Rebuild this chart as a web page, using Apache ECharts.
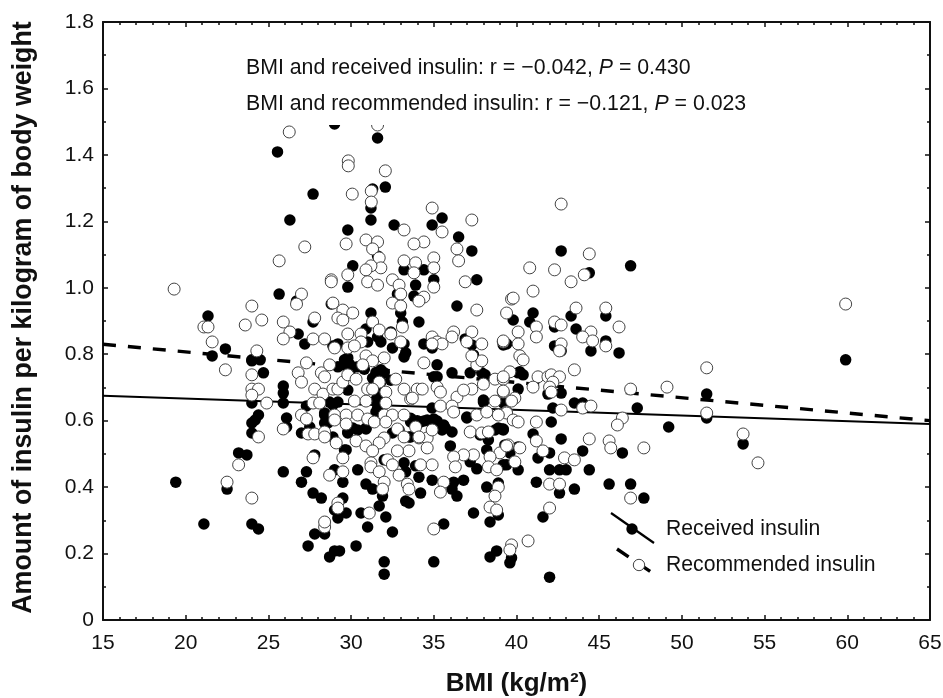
<!DOCTYPE html>
<html>
<head>
<meta charset="utf-8">
<style>html,body{margin:0;padding:0;background:#fff}#c{width:943px;height:698px}</style>
<script src="https://cdn.jsdelivr.net/npm/echarts@6/dist/echarts.min.js"></script>
</head>
<body>
<div id="c"></div>
<script>
var xTitle = 'BMI (kg/m\u00B2)';
var yTitle = 'Amount of insulin per kilogram of body weight';
var statLines = [
  ['BMI and received insulin: r = \u22120.042, ', ' = 0.430'],
  ['BMI and recommended insulin: r = \u22120.121, ', ' = 0.023']
];
var legendNames = ['Received insulin', 'Recommended insulin'];
var receivedFit = [[15,0.675],[65,0.59]];
var recommendedFit = [[15,0.83],[65,0.60]];

var received = [
[29,1.493],[31.6,1.451],[25.55,1.409],[27.7,1.282],[32.07,1.303],[31.3,1.297],[31.2,1.24],[31.2,1.204],[26.3,1.204],[29.8,1.174],
[32.6,1.189],[34.9,1.189],[35.5,1.21],[36.5,1.153],[37.3,1.111],[31.6,1.096],[30.1,1.066],[33.2,1.054],[34.4,1.054],[35,1.024],
[37.6,1.024],[33.9,1.008],[29.8,1.002],[25.65,0.981],[33.8,0.975],[32.8,0.981],[26.7,0.96],[28.8,0.951],[36.4,0.945],[21.35,0.915],
[33,0.924],[31.2,0.924],[27.7,0.897],[34.1,0.897],[33.1,0.897],[26.8,0.861],[27.2,0.831],[30.9,0.876],[32.4,0.867],[29.8,0.861],
[31,0.837],[31.6,0.852],[31.8,0.837],[29.2,0.831],[28.9,0.825],[33.2,0.831],[34.4,0.831],[34.9,0.819],[36.9,0.846],[37.3,0.828],
[22.4,0.816],[21.6,0.795],[32.5,0.819],[33.3,0.804],[39.2,0.828],[37.4,0.798],[29.8,0.789],[24,0.783],[24.5,0.783],
[24,0.78],[24.7,0.744],[25.9,0.704],[25.9,0.683],[24,0.653],[25.9,0.653],[24.4,0.617],[24.2,0.602],[24,0.593],[24,0.563],
[26.1,0.608],[26.1,0.581],[27.3,0.644],[27,0.563],[27.5,0.581],[28.4,0.617],[28.4,0.593],[28.9,0.647],[29.8,0.563],[30.9,0.575],
[30.1,0.578],[31.6,0.662],[29.6,0.768],[31.3,0.728],[29.8,0.692],[32,0.744],[35.2,0.768],[36.1,0.744],[34.9,0.638],[35.2,0.732],
[37.9,0.744],[38,0.656],[39.2,0.653],[37,0.608],[32.5,0.563],[33.6,0.551],[34.4,0.599],[35.2,0.599],[35.5,0.572],[36.1,0.566],
[35.6,0.587],[34.8,0.596],[33.8,0.599],[36,0.524],[38.7,0.572],[39.1,0.575],[38.3,0.542],[38.2,0.512],[39.2,0.467],[29.7,0.512],
[27.8,0.497],[23.2,0.503],[23.7,0.497],[25.9,0.446],[27.3,0.446],[27,0.415],[29,0.452],[29.5,0.415],[30.4,0.452],[30.9,0.409],
[31.3,0.394],[32,0.482],[33.2,0.473],[33.3,0.446],[33.9,0.464],[34.1,0.43],[34.9,0.421],[37.2,0.476],[37.6,0.455],[36.8,0.421],
[36.2,0.415],[36.1,0.394],[36.4,0.373],[38.2,0.4],[31.9,0.373],[31.7,0.343],[33.3,0.358],[33.5,0.352],[34.2,0.382],[19.4,0.415],
[22.5,0.394],[21.1,0.289],[24,0.289],[24.4,0.274],[27.7,0.382],[28.2,0.367],[29.5,0.367],[29,0.331],[29.2,0.307],[29.7,0.322],
[30.6,0.322],[28.4,0.295],[28.4,0.259],[27.8,0.259],[27.4,0.223],[28.7,0.19],[29,0.208],[29.3,0.208],[30.3,0.223],[31,0.28],
[32.1,0.31],[32.5,0.265],[32,0.175],[32,0.138],[35,0.175],[35.6,0.289],[37.4,0.322],[38.4,0.295],[38.9,0.316],[38.4,0.19],[38.8,0.208],
[42.7,1.111],[46.9,1.066],[44.4,1.045],[41,0.924],[40.8,0.897],[39.8,0.903],[43.3,0.915],[45.4,0.915],[42.3,0.882],[43.6,0.876],
[39.4,0.831],[42.3,0.825],[42.7,0.81],[44.5,0.81],[45.4,0.84],[46.2,0.804],[40.2,0.747],[40.4,0.738],[40.1,0.695],[41.9,0.68],
[42.7,0.683],[51.5,0.68],[59.9,0.783],[43.5,0.653],[44,0.653],[42.2,0.638],[47.3,0.638],[51.5,0.608],[42.1,0.596],[49.2,0.581],
[53.7,0.53],[42.7,0.545],[41,0.56],[39.2,0.575],[44,0.509],[42,0.503],[41.3,0.488],[46.4,0.503],[39.6,0.503],[39.3,0.527],
[39.4,0.467],[40.1,0.452],[42,0.452],[42.6,0.452],[43,0.452],[44.4,0.452],[41.2,0.415],[42.6,0.382],[43.5,0.394],[45.6,0.409],
[46.9,0.409],[47.7,0.367],[41.6,0.31],[39.7,0.187],[39.6,0.172],[42,0.129],
[28.7,0.768],[29.2,0.762],[29.6,0.783],[29.8,0.759],[30.4,0.762],[28.7,0.656],[29.2,0.656],[28.4,0.623],[28.6,0.593],[31.6,0.671],
[31.6,0.638],[31.6,0.692],[29.8,0.566],[30.4,0.572],[30.9,0.578],[28.9,0.551],[29.6,0.512],
[33.2,0.792],[31.8,0.753],[35,0.732],[37.2,0.744],[38.1,0.738],[40.1,0.744],[32.4,0.722],[31.8,0.716],[31.5,0.662],[31.5,0.626],
[37,0.611],[38,0.662],[33.2,0.617],[33.6,0.596],[34.2,0.596],[35.7,0.578],[32.9,0.572],[33.5,0.551],[38.9,0.578],[39.2,0.572],
[37.8,0.557],[39.5,0.521],[40.1,0.521],[38.9,0.412],
[33.6,0.607],[34,0.6],[34.6,0.602],[35,0.605],[29.9,0.77],[30,0.755],[30.8,0.755],[31.5,0.745]
];

var recommended = [
[19.3,0.996],[26.26,1.469],[29.83,1.382],[29.83,1.367],[32.07,1.352],[30.07,1.282],[31.22,1.291],[31.22,1.258],[34.9,1.24],[37.3,1.204],
[33.2,1.174],[35.5,1.168],[34.4,1.138],[33.8,1.132],[30.9,1.144],[31.6,1.138],[29.7,1.132],[31.3,1.117],[27.2,1.123],[36.4,1.117],
[36.5,1.081],[25.65,1.081],[31.7,1.09],[35,1.09],[33.2,1.081],[33.9,1.075],[35,1.06],[31.8,1.06],[31.2,1.066],[30.9,1.054],
[33.8,1.045],[29.8,1.039],[28.8,1.024],[28.8,1.018],[32.5,1.024],[32.9,1.008],[31,1.018],[31.6,1.008],[35,1.002],[36.9,1.018],
[27,0.981],[26.7,0.951],[33,0.981],[34.4,0.972],[34.1,0.96],[32.5,0.954],[33,0.945],[28.9,0.954],[24,0.945],[29.5,0.933],
[30.1,0.924],[37.6,0.933],[29.2,0.909],[29.5,0.903],[24.6,0.903],[23.6,0.888],[21.1,0.882],[21.35,0.882],[27.8,0.909],[25.9,0.897],
[31.3,0.897],[33.1,0.882],[31.7,0.873],[26.3,0.867],[32.4,0.861],[29.8,0.861],[30.6,0.861],[33,0.837],[30.6,0.837],[36.2,0.867],
[36.1,0.852],[37.3,0.867],[37,0.837],[37.9,0.831],[34.9,0.852],[35.2,0.837],[35.5,0.831],[34.9,0.831],[39.2,0.837],[39.4,0.924],
[39.7,0.966],[27.7,0.846],[28.4,0.846],[25.9,0.846],[21.6,0.837],[24.3,0.81],[29,0.819],[29.8,0.819],[30.2,0.825],
[22.4,0.753],[24,0.738],[24,0.695],[24.4,0.695],[24,0.677],[24.9,0.653],[26.8,0.744],[27,0.716],[27.3,0.774],[28.2,0.744],
[28.4,0.732],[28.7,0.768],[27.8,0.695],[28.3,0.68],[27.7,0.653],[28.1,0.653],[28.9,0.695],[29.2,0.695],[29.5,0.716],[29.8,0.738],
[30.3,0.725],[30.9,0.795],[31.3,0.78],[32,0.789],[30.7,0.768],[32.7,0.725],[31.7,0.716],[31,0.695],[31.3,0.695],[32.1,0.686],
[33.2,0.695],[34,0.695],[34.3,0.695],[34.4,0.774],[35.2,0.701],[35.4,0.686],[36.4,0.671],[37.3,0.695],[38,0.71],[38.7,0.725],
[39.2,0.686],[37.6,0.768],[37.9,0.78],[37.3,0.795],[33.6,0.665],[30.2,0.659],[30.9,0.659],[32.1,0.653],[35.4,0.644],[36.1,0.644],
[38.7,0.659],[36.2,0.626],[27,0.617],[27.3,0.605],[29,0.617],[29.7,0.617],[30.4,0.617],[32,0.617],[32.5,0.617],[33.2,0.617],
[37.6,0.617],[38.2,0.626],[39.4,0.626],[29,0.602],[29.7,0.59],[31,0.605],[31.4,0.596],[32.1,0.596],[25.9,0.575],[27.4,0.56],
[27.8,0.56],[28.4,0.566],[28.4,0.551],[24.4,0.551],[29.1,0.533],[30.3,0.539],[30.9,0.524],[32,0.548],[31.7,0.533],[32.8,0.575],
[33.2,0.551],[33.9,0.581],[34.1,0.548],[34.6,0.548],[34.9,0.572],[34.6,0.518],[37.2,0.566],[37.9,0.563],[38.3,0.566],[39.5,0.527],
[39,0.503],[38.4,0.491],[37.4,0.497],[36.8,0.497],[36.2,0.491],[36.3,0.461],[38.3,0.461],[38.8,0.452],[33.5,0.509],[32.8,0.509],
[31.3,0.509],[27.7,0.488],[29.5,0.488],[31.2,0.473],[31.2,0.461],[32.2,0.482],[32.5,0.467],[31.7,0.446],[32.9,0.436],[34.2,0.467],
[34.9,0.467],[29.5,0.446],[28.7,0.436],[23.2,0.467],[32,0.415],[31.9,0.394],[33.4,0.409],[33.5,0.394],[35.6,0.415],[35.4,0.385],
[38.9,0.4],[38.7,0.373],[22.5,0.415],[24,0.367],[29.2,0.352],[29.2,0.337],[31.1,0.322],[38.4,0.34],[38.8,0.331],[28.4,0.28],
[28.4,0.295],[35,0.274],
[42.7,1.252],[44.4,1.102],[40.8,1.06],[42.3,1.054],[44.1,1.039],[43.3,1.018],[41,0.99],[39.8,0.969],[43.6,0.939],[45.4,0.939],
[42.3,0.897],[42.7,0.888],[46.2,0.882],[41.2,0.882],[40.1,0.867],[41.2,0.852],[44.5,0.867],[44,0.852],[44.6,0.84],[39.2,0.84],
[40.1,0.831],[42.7,0.831],[45.4,0.825],[42.6,0.81],[40.2,0.795],[40.4,0.783],[43.5,0.753],[39.6,0.747],[39.2,0.725],[41.3,0.732],
[41.9,0.732],[42.1,0.738],[42.6,0.732],[42.2,0.716],[42,0.701],[41,0.701],[39.2,0.689],[42.1,0.686],[46.9,0.695],[49.1,0.701],
[51.5,0.759],[59.9,0.951],[39.9,0.668],[39.7,0.659],[39.4,0.623],[42.7,0.632],[44,0.638],[44.5,0.644],[51.5,0.623],[46.4,0.608],
[46.1,0.587],[39.8,0.602],[40.1,0.596],[41.2,0.596],[41.2,0.539],[44.4,0.545],[45.6,0.539],[45.7,0.518],[47.7,0.518],[54.6,0.473],
[53.7,0.56],[40.2,0.518],[39.4,0.524],[41.6,0.509],[42.9,0.488],[43.5,0.482],[39.9,0.476],[42,0.409],[42.6,0.409],[46.9,0.367],
[42,0.337],[40.7,0.238],[39.7,0.226],[39.6,0.211],
[36.8,0.692],[33.7,0.668],[38.9,0.617],[34.1,0.551],[39.2,0.732],[31.6,1.49]
];

var FONT = '"Liberation Sans", Arial, sans-serif';
var INK = '#111';
function axisBase(pos, splits) {
  return {
    position: pos,
    splitLine: {show: false},
    axisLine: {show: true, onZero: false, lineStyle: {color: INK, width: 2}},
    axisTick: {show: true, inside: true, length: 5, lineStyle: {color: INK, width: 1.5}},
    minorTick: {show: true, splitNumber: splits, length: 3, lineStyle: {color: INK, width: 1.5}},
    minorSplitLine: {show: false}
  };
}
function xAxisDef(pos, labels) {
  var a = axisBase(pos, 5);
  a.type = 'value'; a.min = 15; a.max = 65; a.interval = 5;
  a.axisLabel = {show: labels, fontFamily: FONT, fontSize: 21, color: INK, margin: 13};
  if (labels) {
    a.name = xTitle; a.nameLocation = 'middle'; a.nameGap = 51;
    a.nameTextStyle = {fontFamily: FONT, fontSize: 26, fontWeight: 'bold', color: INK};
  }
  return a;
}
function yAxisDef(pos, labels) {
  var a = axisBase(pos, 2);
  a.type = 'value'; a.min = 0; a.max = 1.8; a.interval = 0.2;
  a.axisLabel = {show: labels, fontFamily: FONT, fontSize: 21, color: INK, margin: 9,
    formatter: function (v) { return v === 0 ? '0' : v.toFixed(1); }};
  if (labels) {
    a.name = yTitle; a.nameLocation = 'middle'; a.nameGap = 66;
    a.nameTextStyle = {fontFamily: FONT, fontSize: 26.8, fontWeight: 'bold', color: INK, padding: [0, 0, 0, 7]};
  }
  return a;
}
function statText(line, top) {
  return {
    type: 'text', left: 246, top: top, z: 12,
    style: {
      text: '{a|' + line[0] + '}{i|P}{a|' + line[1] + '}',
      rich: {
        a: {fontFamily: FONT, fontSize: 21.3, fill: INK},
        i: {fontFamily: FONT, fontSize: 21.3, fontStyle: 'italic', fill: INK}
      }
    }
  };
}
var chart = echarts.init(document.getElementById('c'), null, {renderer: 'canvas'});
chart.setOption({
  animation: false,
  backgroundColor: '#fff',
  grid: {left: 103, right: 13, top: 22, bottom: 78, containLabel: false, outerBoundsMode: 'none'},
  xAxis: [xAxisDef('bottom', true), xAxisDef('top', false)],
  yAxis: [yAxisDef('left', true), yAxisDef('right', false)],
  series: [
    {type: 'line', name: legendNames[0] + ' fit', data: receivedFit, symbol: 'none', z: 1,
      lineStyle: {color: '#000', width: 2.2}},
    {type: 'line', name: legendNames[1] + ' fit', data: recommendedFit, symbol: 'none', z: 1,
      lineStyle: {color: '#000', width: 3.4, type: [13, 12]}},
    {type: 'scatter', name: legendNames[0], data: received, symbol: 'circle', symbolSize: 11.5, z: 3,
      itemStyle: {color: '#000', opacity: 1}},
    {type: 'scatter', name: legendNames[1], data: recommended, symbol: 'circle', symbolSize: 12, z: 4,
      itemStyle: {color: '#fff', borderColor: '#444', borderWidth: 1, opacity: 1}}
  ],
  graphic: [
    {type: 'rect', z: 10, shape: {x: 240, y: 30, width: 520, height: 95}, style: {fill: '#fff'}},
    statText(statLines[0], 58),
    statText(statLines[1], 94),
    {type: 'line', z: 10, shape: {x1: 611, y1: 513, x2: 654, y2: 543}, style: {stroke: '#000', lineWidth: 2.2}},
    {type: 'circle', z: 11, shape: {cx: 632, cy: 529, r: 5.7}, style: {fill: '#000'}},
    {type: 'line', z: 10, shape: {x1: 617, y1: 549, x2: 654, y2: 574}, style: {stroke: '#000', lineWidth: 3.4, lineDash: [14, 12]}},
    {type: 'circle', z: 11, shape: {cx: 639, cy: 565, r: 5.7}, style: {fill: '#fff', stroke: '#444', lineWidth: 1}},
    {type: 'text', z: 11, left: 666, top: 519, style: {text: legendNames[0], fontFamily: FONT, fontSize: 21.2, fill: INK}},
    {type: 'text', z: 11, left: 666, top: 555, style: {text: legendNames[1], fontFamily: FONT, fontSize: 21.2, fill: INK}}
  ]
});
</script>
</body>
</html>
